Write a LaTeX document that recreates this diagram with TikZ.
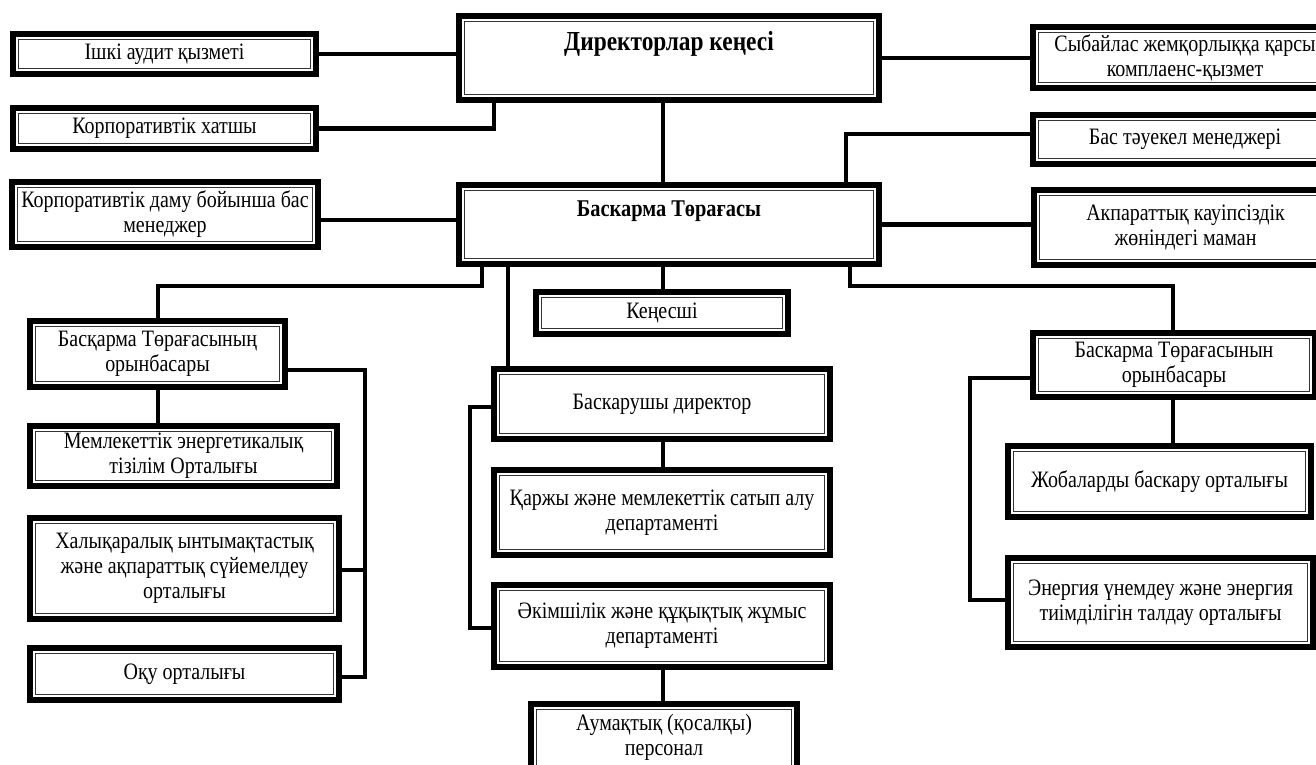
\documentclass[tikz,border=0pt]{standalone}
\usepackage{fontspec}
\setmainfont{Liberation Serif}[FakeStretch=0.85]
\begin{document}
\tikzset{
  obox/.style={draw=black, line width=6pt, fill=white, inner sep=0pt, align=center,
    font=\fontsize{23.5}{25}\selectfont,
    path picture={\draw[line width=1.3pt, black!80]
      ([shift={(5.5pt,5.5pt)}]path picture bounding box.south west) rectangle
      ([shift={(-5.5pt,-5.5pt)}]path picture bounding box.north east);}},
  conn/.style={line width=4.5pt, line join=miter},
  titletext/.style={font=\bfseries\fontsize{#1}{#1}\selectfont, inner sep=0pt}
}
\newcommand\mybox[7][]{\node[obox, minimum width={#4-#2-6}, minimum height={#5-#3-6}, #1] (#6) at ({(#2+#4)/2},{(#3+#5)/2}) {#7};}
\begin{tikzpicture}[x=1pt, y=-1pt]
\useasboundingbox (0,0) rectangle (1316,764);
\clip (0,0) rectangle (1316,764);
\fill[white] (0,0) rectangle (1316,764);

% boxes
\mybox{456}{13}{882}{103}{dk}{}
\node[titletext=27.5] (dkt) at ([yshift=14pt]dk.center) {Директорлар кеңесі};
\mybox{10}{31}{319}{77}{ishki}{Ішкі аудит қызметі}
\mybox{10}{105}{319}{152}{sec}{Корпоративтік хатшы}
\mybox{9}{179}{321}{250}{korp}{Корпоративтік даму бойынша бас\\менеджер}
\mybox{1030}{24}{1340}{91}{syb}{Сыбайлас жемқорлыққа қарсы\\комплаенс-қызмет}
\mybox{1030}{112}{1340}{167}{btm}{Бас тәуекел менеджері}
\mybox{456}{182}{882}{267}{tor}{}
\node[titletext=24] (tort) at ([yshift=13pt]tor.center) {Баскарма Төрағасы};
\mybox{1031}{187}{1340}{268}{aqp}{Акпараттық кауіпсіздік\\жөніндегі маман}
\mybox{533}{289}{791}{337}{ken}{Кеңесші}
\mybox{27}{318}{288}{390}{orL}{Басқарма Төрағасының\\орынбасары}
\mybox{27}{423}{340}{489}{mem}{Мемлекеттік энергетикалық\\тізілім Орталығы}
\mybox{27}{515}{342}{622}{hal}{Халықаралық ынтымақтастық\\және ақпараттық сүйемелдеу\\орталығы}
\mybox{27}{645}{342}{703}{oku}{Оқу орталығы}
\mybox{491}{366}{833}{442}{bask}{Баскарушы директор}
\mybox{491}{467}{833}{558}{qar}{Қаржы және мемлекеттік сатып алу\\департаменті}
\mybox{491}{582}{833}{670}{adm}{Әкімшілік және құқықтық жұмыс\\департаменті}
\mybox{528}{701}{800}{790}{aum}{}
\node[font=\fontsize{23.5}{25}\selectfont, align=center, inner sep=0pt] (aumt) at (664,737) {Аумақтық (қосалқы)\\персонал};
\mybox{1030}{330}{1318}{400}{orR}{Баскарма Төрағасынын\\орынбасары}
\mybox{1005}{443}{1314}{520}{job}{Жобаларды баскару орталығы}
\mybox{1005}{555}{1316}{650}{en}{Энергия үнемдеу және энергия\\тиімділігін талдау орталығы}

% helper coordinates
\coordinate (x494) at (494,0);
\coordinate (x663) at (663,0);
\coordinate (x846) at (846,0);
\coordinate (x482) at (482,0);
\coordinate (x508) at (508,0);
\coordinate (x850) at (850,0);
\coordinate (x158) at (158,0);
\coordinate (x1173) at (1173,0);
\coordinate (x365) at (365,0);
\coordinate (x470) at (470,0);
\coordinate (x970) at (970,0);
\coordinate (y134) at (0,134);
\coordinate (y220) at (0,220);
\coordinate (y286) at (0,286);
\coordinate (y370) at (0,370);
\coordinate (y570) at (0,570);
\coordinate (y677) at (0,677);
\coordinate (y407) at (0,407);
\coordinate (y628) at (0,628);
\coordinate (y378) at (0,378);
\coordinate (y600) at (0,600);

% connectors
\draw[conn] (ishki.east) -- (ishki.east -| dk.west);
\draw[conn] (sec.east) -| (x494 |- dk.south);
\draw[conn] (dk.east) -- (dk.east -| syb.west);
\draw[conn, line width=4pt] (x663 |- dk.south) -- (x663 |- tor.north);
\draw[conn] (btm.west |- y134) -| (x846 |- tor.north);
\draw[conn] (korp.east |- y220) -- (tor.west |- y220);
\draw[conn] (tor.east) -- (tor.east -| aqp.west);
\draw[conn] (x482 |- tor.south) -- (x482 |- y286) -| (x158 |- orL.north);
\draw[conn, line width=3.5pt] (x508 |- tor.south) -- (x508 |- bask.north);
\draw[conn] (x663 |- tor.south) -- (x663 |- ken.north);
\draw[conn] (x850 |- tor.south) -- (x850 |- y286) -| (x1173 |- orR.north);
\draw[conn] (orL.east |- y370) -| (x365 |- y677) -- (oku.east |- y677);
\draw[conn] (hal.east |- y570) -- (x365 |- y570);
\draw[conn] (x158 |- orL.south) -- (x158 |- mem.north);
\draw[conn] (bask.west |- y407) -| (x470 |- y628) -- (adm.west |- y628);
\draw[conn] (x663 |- bask.south) -- (x663 |- qar.north);
\draw[conn] (x663 |- adm.south) -- (x663 |- aum.north);
\draw[conn] (orR.west |- y378) -| (x970 |- y600) -- (en.west |- y600);
\draw[conn] (x1173 |- orR.south) -- (x1173 |- job.north);
\end{tikzpicture}
\end{document}
